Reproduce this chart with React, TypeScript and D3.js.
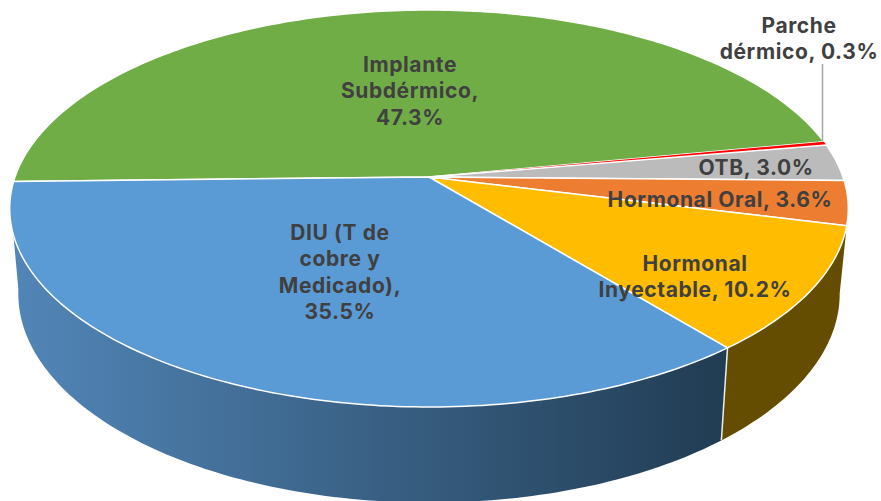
import React from "react";
import * as d3 from "d3";

const categories = ["Implante Subdérmico", "Parche dérmico", "OTB", "Hormonal Oral", "Hormonal Inyectable", "DIU (T de cobre y Medicado)"];
const values = [47.3, 0.3, 3.0, 3.6, 10.2, 35.5];
const colors = ["#70AD47", "#FF0000", "#BBBBBB", "#ED7D31", "#FFBC00", "#5B9BD5"];
const labelLines = [
  ["Implante", "Subdérmico,", "47.3%"],
  ["Parche", "dérmico, 0.3%"],
  ["OTB, 3.0%"],
  ["Hormonal Oral, 3.6%"],
  ["Hormonal", "Inyectable, 10.2%"],
  ["DIU (T de", "cobre y", "Medicado),", "35.5%"],
];
const labelCenters: [number, number][] = [[410, 65], [799, 26], [756, 168], [720, 200], [695, 264], [340, 233]];

const W = 881, H = 501;
const rad = (d: number) => (d * Math.PI) / 180;
const K = 0.1587;
const topPlane = { cx: 429, cy: 177, A: 414, B: 193.5 };
const bottomPlane = { cx: 429, cy: 260.5, A: 405.5, B: 203.7 };
type Plane = typeof topPlane;

function project(p: Plane, a: number): [number, number] {
  const u = Math.sin(a), v = -Math.cos(a), w = 1 - K * v;
  return [p.cx + (p.A * u) / w, p.cy + (p.B * v) / w];
}
function sample(p: Plane, a0: number, a1: number): [number, number][] {
  const n = Math.max(2, Math.ceil(Math.abs(a1 - a0) / rad(1)));
  return d3.range(n + 1).map((i) => project(p, a0 + ((a1 - a0) * i) / n));
}

const line = d3.line();
const pie = d3.pie<number>().sort(null).startAngle(rad(-91.3)).endAngle(rad(268.7));
const arcs = pie(values);

export default function App() {
  const yellow = arcs[4], blue = arcs[5];
  const wallBrown =
    line([...sample(topPlane, yellow.startAngle, yellow.endAngle), ...sample(bottomPlane, yellow.endAngle, rad(99))]) + "Z";
  const wallBlue =
    line([...sample(topPlane, blue.startAngle, rad(253.4)), ...sample(bottomPlane, rad(262), blue.startAngle)]) + "Z";
  return (
    <svg width={W} height={H} viewBox={`0 0 ${W} ${H}`} style={{ position: "absolute", left: 0, top: 0, fontFamily: "Inter, sans-serif" }}>
      <defs>
        <linearGradient id="wallGrad" gradientUnits="userSpaceOnUse" x1={10} x2={727} y1={0} y2={0}>
          <stop offset="0" stopColor="#5286B8" />
          <stop offset="1" stopColor="#213C53" />
        </linearGradient>
      </defs>
      <path d={wallBrown} fill="#644D00" />
      <path d={wallBlue} fill="url(#wallGrad)" />
      <path d={line([project(topPlane, yellow.endAngle), project(bottomPlane, yellow.endAngle)])!} stroke="#E8EEF3" strokeWidth={1.5} fill="none" />
      {arcs.map((a, i) => (
        <path
          key={categories[i]}
          d={line([[topPlane.cx, topPlane.cy], ...sample(topPlane, a.startAngle, a.endAngle)]) + "Z"}
          fill={colors[i]}
          stroke={i === 1 ? "none" : "#fff"}
          strokeWidth={1.5}
          strokeLinejoin="round"
        />
      ))}
      <line x1={822.5} x2={822.5} y1={64} y2={141} stroke="#A6A6A6" strokeWidth={1.5} />
      {labelLines.map((lines, i) => (
        <text key={i} fill="#404040" fontSize={21} fontWeight={700} letterSpacing={0.6} textAnchor="middle">
          {lines.map((t, j) => (
            <tspan key={j} x={labelCenters[i][0]} y={labelCenters[i][1] + j * 26.3 + 7}>
              {t}
            </tspan>
          ))}
        </text>
      ))}
    </svg>
  );
}
